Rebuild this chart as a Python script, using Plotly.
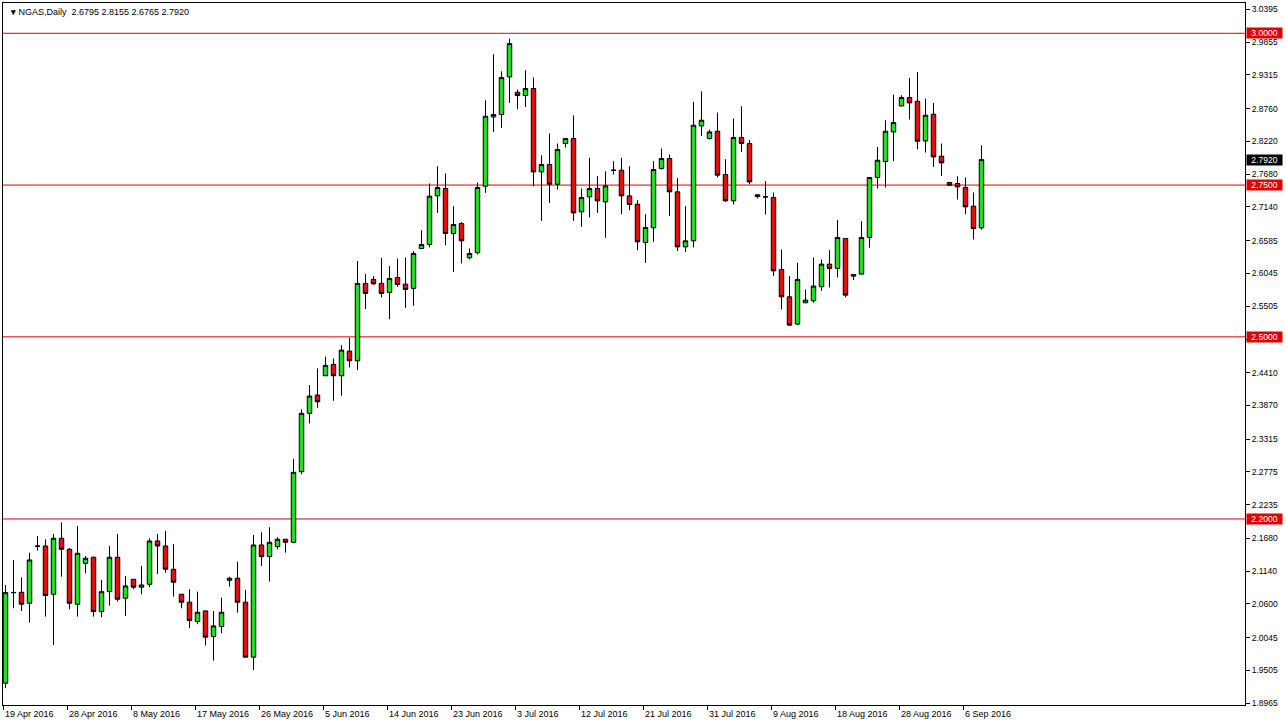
import plotly.graph_objects as go

# ---- data ----
symbol_title = "NGAS,Daily"
opens = [1.9295, 2.0785, 2.0793, 2.0612, 2.1550, 2.1555, 2.0760, 2.1682, 2.1501, 2.0596,
         2.1270, 2.1370, 2.0474, 2.0803, 2.1370, 2.0695, 2.1007, 2.0876, 2.0925, 2.1638,
         2.1555, 2.1172, 2.0760, 2.0629, 2.0310, 2.0486, 2.0063, 2.0228, 2.0991, 2.1024,
         2.0629, 1.9724, 2.1572, 2.1380, 2.1544, 2.1666, 2.1616, 2.2779, 2.3740, 2.4041,
         2.4359, 2.4547, 2.4359, 2.4765, 2.4606, 2.5880, 2.5946, 2.5880, 2.5732, 2.5978,
         2.5868, 2.5798, 2.6456, 2.6522, 2.7322, 2.7443, 2.6703, 2.6868, 2.6302, 2.6385,
         2.7481, 2.8622, 2.8662, 2.9281, 2.9029, 2.8974, 2.9090, 2.7717, 2.7839, 2.7514,
         2.8184, 2.8267, 2.7059, 2.7306, 2.7443, 2.7223, 2.7742, 2.7745, 2.7322, 2.7185,
         2.6555, 2.6796, 2.7773, 2.7937, 2.7388, 2.6482, 2.6582, 2.8475, 2.8266, 2.8387,
         2.7674, 2.7240, 2.8283, 2.8184, 2.7310, 2.7304, 2.7295, 2.6110, 2.5659, 2.5210,
         2.5561, 2.5594, 2.5825, 2.6198, 2.6127, 2.6621, 2.6000, 2.6033, 2.6637, 2.7625,
         2.7887, 2.8375, 2.8803, 2.8942, 2.8881, 2.8227, 2.8667, 2.7975, 2.7542, 2.7526,
         2.7460, 2.7152, 2.6795]
highs = [2.0913, 2.1325, 2.1040, 2.1445, 2.1720, 2.1666, 2.1753, 2.1946, 2.1520, 2.1885,
         2.1390, 2.1380, 2.0996, 2.1555, 2.1753, 2.1062, 2.1010, 2.1226, 2.1682, 2.1753,
         2.1802, 2.1588, 2.0765, 2.0843, 2.0803, 2.0490, 2.0486, 2.0705, 2.1050, 2.1297,
         2.0831, 2.1737, 2.1781, 2.1863, 2.1700, 2.1670, 2.2988, 2.3806, 2.4206, 2.4481,
         2.4672, 2.4645, 2.4864, 2.4984, 2.6247, 2.6033, 2.6000, 2.6301, 2.6165, 2.6291,
         2.6308, 2.6411, 2.6757, 2.7526, 2.7811, 2.7690, 2.7152, 2.6894, 2.6456, 2.7542,
         2.8897, 2.9654, 2.9374, 2.9912, 2.9073, 2.9391, 2.9271, 2.7992, 2.8349, 2.8184,
         2.8270, 2.8650, 2.7443, 2.7948, 2.7646, 2.7728, 2.7893, 2.7948, 2.7811, 2.7251,
         2.7020, 2.7893, 2.8102, 2.8003, 2.7618, 2.7152, 2.8870, 2.9045, 2.8414, 2.8695,
         2.7926, 2.8596, 2.8798, 2.8239, 2.7345, 2.7564, 2.7378, 2.6439, 2.6000, 2.6219,
         2.5781, 2.6308, 2.6275, 2.6428, 2.6922, 2.6625, 2.6030, 2.6905, 2.7630, 2.8128,
         2.8568, 2.8990, 2.8979, 2.9264, 2.9363, 2.8925, 2.8853, 2.8184, 2.7545, 2.7646,
         2.7625, 2.7378, 2.8155]
lows = [1.9213, 2.0530, 2.0486, 2.0293, 2.1478, 2.0392, 1.9926, 2.1050, 2.0513, 2.0392,
        2.1106, 2.0392, 2.0382, 2.0573, 2.0639, 2.0403, 2.0843, 2.0760, 2.0876, 2.1094,
        2.1116, 2.0721, 2.0530, 2.0201, 2.0267, 1.9915, 1.9668, 2.0118, 2.0886, 2.0458,
        1.9720, 1.9514, 2.1226, 2.0968, 2.1500, 2.1445, 2.1600, 2.2736, 2.3575, 2.3832,
        2.4355, 2.3947, 2.4030, 2.4497, 2.4453, 2.5457, 2.5852, 2.5649, 2.5292, 2.5824,
        2.5478, 2.5511, 2.6450, 2.6473, 2.7042, 2.6510, 2.6071, 2.6209, 2.6275, 2.6357,
        2.7371, 2.8375, 2.8441, 2.8853, 2.8749, 2.8787, 2.7481, 2.6910, 2.7207, 2.7427,
        2.8118, 2.6910, 2.6812, 2.6966, 2.7042, 2.6631, 2.7674, 2.7020, 2.7086, 2.6428,
        2.6219, 2.6565, 2.7756, 2.6993, 2.6412, 2.6400, 2.6473, 2.8310, 2.8250, 2.7625,
        2.7223, 2.7180, 2.8046, 2.7514, 2.7279, 2.7015, 2.6005, 2.5451, 2.5182, 2.5193,
        2.5555, 2.5561, 2.5758, 2.5814, 2.5978, 2.5649, 2.5934, 2.6030, 2.6467, 2.7443,
        2.7460, 2.7893, 2.8800, 2.8580, 2.8091, 2.8036, 2.7800, 2.7651, 2.7495, 2.7262,
        2.7020, 2.6604, 2.6765]
closes = [2.0787, 2.0790, 2.0596, 2.1325, 2.1555, 2.0738, 2.1682, 2.1501, 2.0612, 2.1435,
          2.1353, 2.0474, 2.0803, 2.1370, 2.0678, 2.0897, 2.0876, 2.0913, 2.1638, 2.1555,
          2.1172, 2.0958, 2.0629, 2.0327, 2.0464, 2.0053, 2.0239, 2.0464, 2.1024, 2.0629,
          1.9724, 2.1572, 2.1380, 2.1616, 2.1666, 2.1616, 2.2769, 2.3740, 2.4025, 2.3931,
          2.4530, 2.4359, 2.4782, 2.4606, 2.5880, 2.5715, 2.5874, 2.5715, 2.5962, 2.5863,
          2.5781, 2.6374, 2.6522, 2.7317, 2.7460, 2.6703, 2.6851, 2.6582, 2.6374, 2.7460,
          2.8634, 2.8662, 2.9271, 2.9830, 2.8974, 2.9090, 2.7717, 2.7839, 2.7514, 2.8085,
          2.8267, 2.7042, 2.7295, 2.7443, 2.7240, 2.7487, 2.7745, 2.7322, 2.7180, 2.6565,
          2.6802, 2.7756, 2.7937, 2.7388, 2.6482, 2.6582, 2.8486, 2.8568, 2.8375, 2.7663,
          2.7240, 2.8283, 2.8184, 2.7552, 2.7340, 2.7306, 2.6087, 2.5659, 2.5193, 2.5946,
          2.5605, 2.5836, 2.6198, 2.6127, 2.6637, 2.5687, 2.6028, 2.6637, 2.7625, 2.7909,
          2.8387, 2.8530, 2.8942, 2.8853, 2.8222, 2.8650, 2.7964, 2.7865, 2.7498, 2.7470,
          2.7141, 2.6785, 2.7920]

date_tick_labels = ["19 Apr 2016", "28 Apr 2016", "8 May 2016", "17 May 2016", "26 May 2016",
                    "5 Jun 2016", "14 Jun 2016", "23 Jun 2016", "3 Jul 2016", "12 Jul 2016",
                    "21 Jul 2016", "31 Jul 2016", "9 Aug 2016", "18 Aug 2016", "28 Aug 2016",
                    "6 Sep 2016"]
bars_per_tick = 8

price_ticks = ["3.0395", "2.9855", "2.9315", "2.8760", "2.8220", "2.7680", "2.7140", "2.6585",
               "2.6045", "2.5505", "2.4950", "2.4410", "2.3870", "2.3315", "2.2775", "2.2235",
               "2.1680", "2.1140", "2.0600", "2.0045", "1.9505", "1.8965"]
levels = [3.0, 2.75, 2.5, 2.2]

# ---- figure ----
bar_idx = list(range(len(opens)))
FONT = "Liberation Sans"
GREEN = "#22dd22"
RED = "#dd1111"
LEVEL_RED = "#e00000"

fig = go.Figure()
fig.add_trace(go.Candlestick(
    x=bar_idx, open=opens, high=highs, low=lows, close=closes,
    increasing=dict(line=dict(color="black", width=1), fillcolor=GREEN),
    decreasing=dict(line=dict(color="black", width=1), fillcolor=RED),
    whiskerwidth=0, hoverinfo="skip", showlegend=False,
))

shapes = []
annotations = []
for lv in levels:
    shapes.append(dict(type="line", xref="paper", x0=0, x1=1, yref="y", y0=lv, y1=lv,
                       line=dict(color=LEVEL_RED, width=1), layer="below"))
    annotations.append(dict(xref="paper", x=1, xanchor="left", xshift=1, yref="y", y=lv,
                            yanchor="middle", text=f"{lv:.4f}", showarrow=False,
                            bgcolor=LEVEL_RED, width=35, height=10, borderpad=0,
                            font=dict(family=FONT, size=8.5, color="white")))

last_close = closes[-1]
annotations.append(dict(xref="paper", x=1, xanchor="left", xshift=1, yref="y", y=last_close,
                        yanchor="middle", text=f"{last_close:.4f}", showarrow=False,
                        bgcolor="black", width=35, height=10, borderpad=0,
                        font=dict(family=FONT, size=8.5, color="white")))

header = (f"<b>\u25BE</b> {symbol_title}  {opens[-1]:.4f} {highs[-1]:.4f} "
          f"{lows[-1]:.4f} {closes[-1]:.4f}")
annotations.append(dict(xref="paper", yref="paper", x=0, y=1, xanchor="left", yanchor="top",
                        xshift=5, yshift=-2, text=header, showarrow=False,
                        font=dict(family=FONT, size=9, color="black")))

# the 2.4950 label sits under the 2.5000 level box in the reference
hidden_under_box = [abs(float(t) - lv) < 0.01 for t in price_ticks for lv in [2.5]]
price_ticktext = ["" if h else t for t, h in zip(price_ticks, hidden_under_box)]

fig.update_layout(
    width=1286, height=728,
    margin=dict(l=3, r=41, t=3, b=23),
    paper_bgcolor="white", plot_bgcolor="white",
    shapes=shapes, annotations=annotations,
    boxgap=0.2, boxgroupgap=0.3,
    showlegend=False,
    font=dict(family=FONT, size=8.5, color="black"),
    xaxis=dict(
        range=[-0.3125, 154.94], rangeslider=dict(visible=False),
        showgrid=False, zeroline=False,
        showline=True, linecolor="black", linewidth=1, mirror=True,
        tickmode="array",
        tickvals=[i * bars_per_tick - 0.2 for i in range(len(date_tick_labels))],
        ticktext=date_tick_labels,
        ticks="outside", ticklen=4, tickcolor="black", tickwidth=1,
        ticklabelposition="outside right",
        tickfont=dict(family=FONT, size=9, color="black"),
    ),
    yaxis=dict(
        range=[1.8936, 3.0499], side="right",
        showgrid=False, zeroline=False,
        showline=True, linecolor="black", linewidth=1, mirror=True,
        tickmode="array",
        tickvals=[float(t) for t in price_ticks], ticktext=price_ticktext,
        ticks="outside", ticklen=4, tickcolor="black", tickwidth=1,
        tickfont=dict(family=FONT, size=8.5, color="black"),
    ),
)

fig.write_html("out.html", config={"displayModeBar": False},
               post_script="document.body.style.margin='0';document.body.style.overflow='hidden';")
